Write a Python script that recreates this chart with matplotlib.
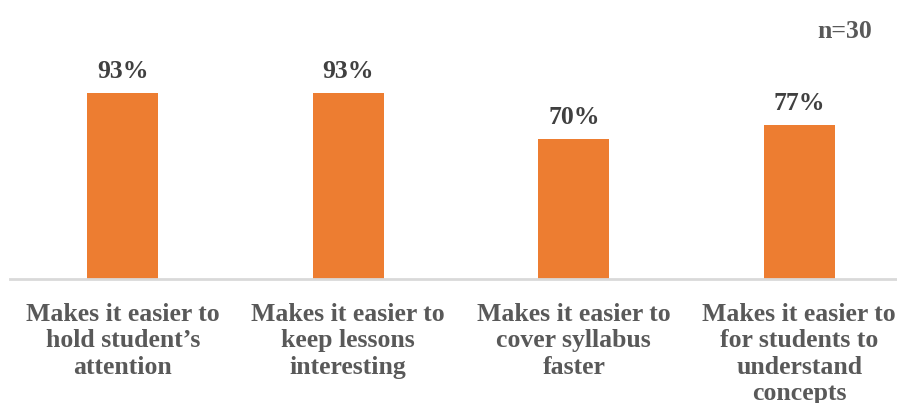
import matplotlib.pyplot as plt

categories = [
    "Makes it easier to\nhold student\u2019s\nattention",
    "Makes it easier to\nkeep lessons\ninteresting",
    "Makes it easier to\ncover syllabus\nfaster",
    "Makes it easier to\nfor students to\nunderstand\nconcepts",
]
values = [93, 93, 70, 77]
value_labels = ["93%", "93%", "70%", "77%"]
note = "n=30"

plt.rcParams['font.family'] = ['Liberation Serif', 'DejaVu Serif']

fig = plt.figure(figsize=(8.97, 4.03), dpi=100)
ax = fig.add_axes([10 / 897, 1 - 279 / 403, 887 / 897, 279 / 403])

x = range(len(values))
bars = ax.bar(x, values, width=0.315, color='#ED7D31')

ax.set_xlim(-0.5, -0.5 + 887 / 225.5)
ax.set_ylim(0, 139.5)

for bar, lab in zip(bars, value_labels):
    ax.annotate(lab, (bar.get_x() + bar.get_width() / 2, bar.get_height()),
                xytext=(0, 7), textcoords='offset points',
                ha='center', va='bottom', fontsize=18.5, fontweight='bold',
                color='#404040')

ax.set_xticks(list(x))
ax.set_xticklabels(categories, fontsize=18.5, fontweight='bold', color='#595959',
                   linespacing=1.2)
ax.tick_params(axis='x', length=0, pad=17)
ax.set_yticks([])

for s in ['top', 'right', 'left']:
    ax.spines[s].set_visible(False)
ax.spines['bottom'].set_color('#D9D9D9')
ax.spines['bottom'].set_linewidth(2)

fig.text(872 / 897, 1 - 31 / 403, note, ha='right', va='center',
         fontsize=18.5, fontweight='bold', color='#595959')

fig.savefig('out.png', dpi=100)
